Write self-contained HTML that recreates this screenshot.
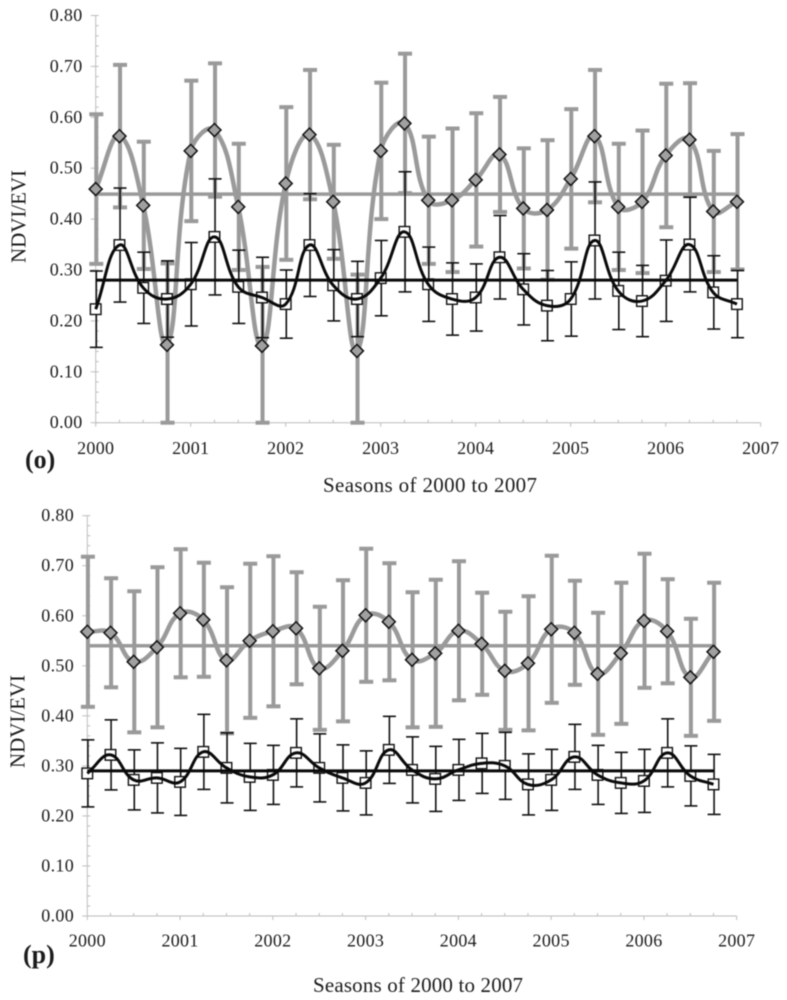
<!DOCTYPE html>
<html lang="en">
<head>
<meta charset="utf-8">
<title>NDVI/EVI seasonal charts 2000 to 2007</title>
<style>
html,body{margin:0;padding:0;background:#fff;}
svg{display:block;filter:blur(0.4px);}
text{font-family:"Liberation Serif",serif;fill:#1c1c1c;}
</style>
</head>
<body>
<svg id="figure" xmlns="http://www.w3.org/2000/svg" width="787" height="1000" viewBox="0 0 787 1000">
  <g id="panel-o"></g>
  <g id="panel-p"></g>
  <text x="25" y="468" font-size="26" font-weight="bold">(o)</text>
  <text x="23" y="963" font-size="26" font-weight="bold">(p)</text>
  <text x="323" y="492" font-size="21" textLength="214" lengthAdjust="spacing">Seasons of 2000 to 2007</text>
  <text x="313" y="992" font-size="21" textLength="210" lengthAdjust="spacing">Seasons of 2000 to 2007</text>
  <text transform="translate(25.5 263) rotate(-90)" font-size="21" textLength="93" lengthAdjust="spacing">NDVI/EVI</text>
  <text transform="translate(24.5 768) rotate(-90)" font-size="21" textLength="93" lengthAdjust="spacing">NDVI/EVI</text>
</svg>
<script>
const seasons = [2000,2000.25,2000.5,2000.75,2001,2001.25,2001.5,2001.75,2002,2002.25,2002.5,2002.75,2003,2003.25,2003.5,2003.75,2004,2004.25,2004.5,2004.75,2005,2005.25,2005.5,2005.75,2006,2006.25,2006.5,2006.75];
const xTickLabels = [2000,2001,2002,2003,2004,2005,2006,2007];
const yTickLabels = ['0.00','0.10','0.20','0.30','0.40','0.50','0.60','0.70','0.80'];
const yMinorStep = 0.02;

const oGrayValues = [.459,.563,.427,.153,.534,.575,.424,.151,.470,.566,.434,.141,.534,.588,.437,.437,.477,.527,.421,.418,.479,.563,.424,.434,.525,.556,.415,.434];
const oGrayErrors = [.147,.140,.125,.160,.138,.131,.124,.155,.150,.127,.112,.150,.134,.137,.125,.141,.131,.113,.118,.137,.137,.130,.124,.140,.141,.111,.119,.133];
const oBlackValues = [.223,.349,.265,.243,.272,.365,.267,.246,.233,.349,.270,.243,.284,.375,.272,.243,.246,.325,.262,.230,.243,.358,.259,.239,.279,.350,.256,.233];
const oBlackErrors = [.075,.112,.070,.075,.082,.114,.072,.079,.067,.101,.070,.074,.074,.118,.073,.071,.066,.082,.070,.069,.073,.115,.076,.070,.080,.093,.072,.066];
const oGrayMean = 0.449;
const oBlackMean = 0.280;

const pGrayValues = [.568,.566,.508,.537,.605,.592,.511,.550,.569,.575,.495,.530,.601,.588,.512,.525,.570,.544,.490,.505,.573,.566,.484,.525,.590,.569,.477,.528];
const pGrayErrors = [.150,.109,.141,.160,.128,.114,.146,.154,.150,.112,.123,.141,.133,.117,.135,.147,.139,.102,.118,.134,.147,.104,.122,.141,.134,.104,.117,.138];
const pBlackValues = [.285,.322,.272,.276,.268,.328,.296,.278,.282,.326,.296,.276,.266,.332,.292,.274,.292,.305,.300,.263,.272,.318,.282,.266,.270,.326,.280,.263];
const pBlackErrors = [.067,.070,.060,.070,.067,.075,.070,.067,.059,.068,.068,.066,.064,.067,.066,.065,.061,.060,.067,.061,.061,.065,.059,.061,.063,.068,.060,.060];
const pGrayMean = 0.540;
const pBlackMean = 0.290;

const SVGNS = 'http://www.w3.org/2000/svg';
const GRAY = '#9a9a9a';
const AXIS = '#bdbdbd';

function add(parent, tag, attrs) {
  const el = document.createElementNS(SVGNS, tag);
  for (const k in attrs) el.setAttribute(k, attrs[k]);
  parent.appendChild(el);
  return el;
}

/* Spreadsheet-style smoothing: each handle is scaled by the length of its own segment,
   so a short segment next to a long one does not overshoot. */
function smoothPath(xs, ys) {
  const n = xs.length;
  const dist = (a, b) => Math.hypot(xs[a] - xs[b], ys[a] - ys[b]);
  const handle = (i, toward) => {
    const a = Math.max(i - 1, 0), b = Math.min(i + 1, n - 1);
    const lenPrev = dist(a, i), lenNext = dist(i, b);
    const total = lenPrev + lenNext || 1;
    const share = (toward > 0 ? lenNext : -lenPrev) / total * 0.42;
    return [xs[i] + (xs[b] - xs[a]) * share, ys[i] + (ys[b] - ys[a]) * share];
  };
  let d = 'M' + xs[0].toFixed(2) + ' ' + ys[0].toFixed(2);
  for (let i = 0; i < n - 1; i++) {
    const c1 = handle(i, 1), c2 = handle(i + 1, -1);
    d += 'C' + c1[0].toFixed(2) + ' ' + c1[1].toFixed(2) + ' ' + c2[0].toFixed(2) + ' ' + c2[1].toFixed(2) + ' ' + xs[i + 1].toFixed(2) + ' ' + ys[i + 1].toFixed(2);
  }
  return d;
}

function drawPanel(root, geo, grayValues, grayErrors, blackValues, blackErrors, grayMean, blackMean) {
  const sx = year => geo.x2000 + (year - 2000) * geo.pxPerYear;
  const sy = v => geo.y0 - v * geo.pxPerUnit;
  const xLeft = sx(xTickLabels[0]), xRight = sx(xTickLabels[xTickLabels.length - 1]);
  const yMax = parseFloat(yTickLabels[yTickLabels.length - 1]);

  const yAxis = add(root, 'line', {x1: xLeft, x2: xLeft, y1: sy(0), y2: sy(yMax), stroke: AXIS, 'stroke-width': 1});
  
  
  const xAxis = add(root, 'line', {x1: xLeft, x2: xRight, y1: sy(0), y2: sy(0), stroke: AXIS, 'stroke-width': 1});
  
  

  for (let k = 0; k * yMinorStep <= yMax + 1e-9; k++) {
    const py = sy(k * yMinorStep);
    const major = k % 5 === 0;
    const tick = add(root, 'line', {x1: major ? xLeft - 5 : xLeft, x2: xLeft + 3, y1: py, y2: py, stroke: AXIS, 'stroke-width': 1});
    
    
  }
  yTickLabels.forEach(label => {
    const t = add(root, 'text', {x: geo.yLabelRight, y: sy(parseFloat(label)) + 5.5, 'font-size': 18, 'letter-spacing': 0.3, 'text-anchor': 'end'});
    t.textContent = label;
    
    
  });
  xTickLabels.forEach(year => {
    const tick = add(root, 'line', {x1: sx(year), x2: sx(year), y1: sy(0), y2: sy(0) + 4, stroke: AXIS, 'stroke-width': 1});
    
    
    const t = add(root, 'text', {x: sx(year), y: geo.xLabelBaseline, 'font-size': 18, 'letter-spacing': 0.3, 'text-anchor': 'middle'});
    t.textContent = year;
    
    
  });
  seasons.forEach(s => {
    if (Number.isInteger(s)) return;
    const tick = add(root, 'line', {x1: sx(s), x2: sx(s), y1: sy(0) - 3, y2: sy(0), stroke: AXIS, 'stroke-width': 1});
    
    
  });

  function errorBars(values, errors, color, width, capThick, capHalf, name) {
    values.forEach((v, i) => {
      const px = sx(seasons[i]) + 0.6;
      const top = sy(v + errors[i]), bottom = sy(Math.max(0, v - errors[i]));
      const g = add(root, 'g', {stroke: color, fill: 'none'});
      
      
      add(g, 'line', {x1: px, x2: px, y1: top, y2: bottom, 'stroke-width': width});
      add(g, 'line', {x1: px - capHalf, x2: px + capHalf, y1: top, y2: top, 'stroke-width': capThick});
      add(g, 'line', {x1: px - capHalf, x2: px + capHalf, y1: bottom, y2: bottom, 'stroke-width': capThick});
    });
  }
  const xs = seasons.map(sx);
  const lastX = xs[xs.length - 1];

  errorBars(grayValues, grayErrors, GRAY, 4, 4, 7, 'gray-error-bar');

  const grayCurve = add(root, 'path', {d: smoothPath(xs, grayValues.map(sy)), fill: 'none', stroke: GRAY, 'stroke-width': 4.5});
  
  

  const grayMeanLine = add(root, 'line', {x1: xs[0], x2: lastX, y1: sy(grayMean), y2: sy(grayMean), stroke: GRAY, 'stroke-width': 3.5});
  
  

  errorBars(blackValues, blackErrors, '#111', 1.6, 1.6, 6.5, 'black-error-bar');

  grayValues.forEach((v, i) => {
    const px = sx(seasons[i]), py = sy(v), r = 6.5;
    const m = add(root, 'polygon', {points: (px - r) + ',' + py + ' ' + px + ',' + (py - r) + ' ' + (px + r) + ',' + py + ' ' + px + ',' + (py + r), fill: '#a0a0a0', stroke: '#111', 'stroke-width': 1.5});
    
    
  });
  blackValues.forEach((v, i) => {
    const px = sx(seasons[i]), py = sy(v), r = 5.3;
    const m = add(root, 'rect', {x: px - r, y: py - r, width: 2 * r, height: 2 * r, fill: '#fff', stroke: '#111', 'stroke-width': 1.4});
    
    
  });

  const blackCurve = add(root, 'path', {d: smoothPath(xs, blackValues.map(sy)), fill: 'none', stroke: '#0a0a0a', 'stroke-width': 3});
  
  

  const blackMeanLine = add(root, 'line', {x1: xs[0], x2: lastX, y1: sy(blackMean), y2: sy(blackMean), stroke: '#0a0a0a', 'stroke-width': 3});
  
  
}

drawPanel(document.getElementById('panel-o'),
  {x2000: 95.7, pxPerYear: 95, y0: 422.7, pxPerUnit: 509, yLabelRight: 82.5, xLabelBaseline: 454},
  oGrayValues, oGrayErrors, oBlackValues, oBlackErrors, oGrayMean, oBlackMean);
drawPanel(document.getElementById('panel-p'),
  {x2000: 87.3, pxPerYear: 92.77, y0: 916, pxPerUnit: 500.4, yLabelRight: 74, xLabelBaseline: 946.5},
  pGrayValues, pGrayErrors, pBlackValues, pBlackErrors, pGrayMean, pBlackMean);
</script>
</body>
</html>
